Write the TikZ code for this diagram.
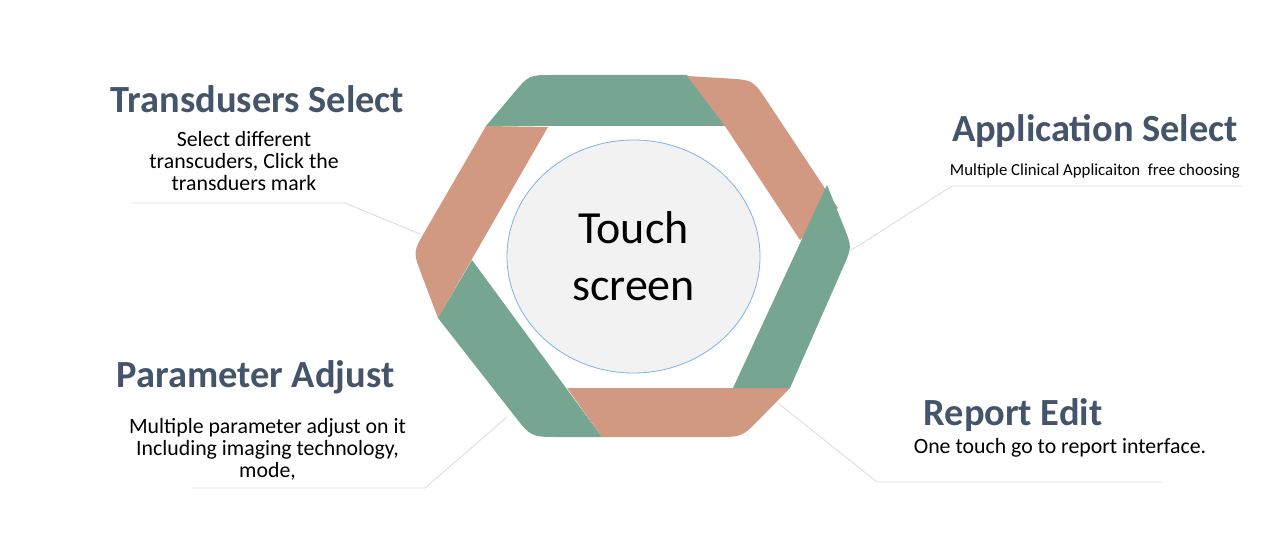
\documentclass[tikz,border=0pt]{standalone}
\usepackage{fontspec}
\setmainfont{Carlito}
\usetikzlibrary{calc,shapes.geometric}
\definecolor{segG}{HTML}{76A592}
\definecolor{segS}{HTML}{D19882}
\definecolor{ttl}{HTML}{44546A}
\definecolor{lead}{HTML}{DDDDDD}
\definecolor{ringblue}{HTML}{7DB4E8}
\definecolor{ringfill}{HTML}{F2F2F2}
\begin{document}
\begin{tikzpicture}[x=1pt,y=-1pt,
  title/.style={anchor=base,text=ttl,font=\fontsize{38.4}{44}\selectfont\bfseries,inner sep=0},
  body/.style={anchor=base,align=center,text=black,font=\fontsize{21.8}{22}\selectfont,inner sep=0},
  small/.style={anchor=base,text=black,font=\fontsize{16.8}{18}\selectfont,inner sep=0},
  leader/.style={draw=lead,line width=0.9pt},
  center/.style={ellipse,draw=ringblue,line width=0.8pt,fill=ringfill,minimum width=253,minimum height=233,inner sep=0,align=center,font=\fontsize{46}{57}\selectfont}
]
\useasboundingbox (0,0) rectangle (1268,540);
\fill[white] (0,0) rectangle (1268,540);

% ring segments
% green top
\fill[segG] (486,126) -- (730,126) -- (687,75) -- ($(529,75)!24pt!(687,75)$) .. controls (529,75) .. ($(529,75)!24pt!(486,126)$) -- cycle;
% salmon left
\fill[segS] (548,127) -- (438,318) -- ($(413,252)!24pt!(438,318)$) .. controls (413,252) .. ($(413,252)!24pt!(486,126)$) -- (486,126) -- cycle;
% green bottom-left
\fill[segG] (472,260) -- (602,437) -- ($(531,437)!28pt!(602,437)$) .. controls (531,437) .. ($(531,437)!28pt!(438,318)$) -- (438,318) -- cycle;
% salmon bottom
\fill[segS] (567,388) -- (790,388) -- ($(742,437)!26pt!(790,388)$) .. controls (742,437) .. ($(742,437)!26pt!(602,437)$) -- (602,437) -- cycle;
% salmon top-right
\fill[segS] (687,76) -- ($(753,80)!26pt!(687,76)$) .. controls (753,80) .. ($(753,80)!26pt!(838,208)$) -- (838,208) -- (800,240) -- (725,126) -- cycle;
% green right
\fill[segG] (827,185) -- ($(852,247)!22pt!(827,185)$) .. controls (852,247) .. ($(852,247)!22pt!(790,388)$) -- (790,388) -- (733,388) -- cycle;

% center
\node[center] (ts) at (633.5,256.5) {Touch\\screen};

% texts (multi-line nodes are anchored at the baseline of their last line)
\node[title] (t1) at (257.5,113) {Transdusers Select};
\node[body] (b1) at (244,191) {Select different\\transcuders, Click the\\transduers mark};

\node[title] (t2) at (1095,142) {Application Select};
\node[small] (b2) at (1095,176) {Multiple Clinical Applicaiton\ \ free choosing};

\node[title] (t3) at (255.5,387) {Parameter Adjust};
\node[body] (b3) at (267.5,477) {Multiple parameter adjust on it\\Including imaging technology,\\mode,};

\node[title] (t4) at (1013,425) {Report Edit};
\node[body] (b4) at (1060,453) {One touch go to report interface.};

% leader lines
\coordinate (l1a) at (131,203); \coordinate (l1b) at (345,203); \coordinate (l1c) at (420,234);
\draw[leader] (l1a) -- (l1b) -- (l1c);
\coordinate (l2a) at (1243,186); \coordinate (l2b) at (952,186); \coordinate (l2c) at (850,251);
\draw[leader] (l2a) -- (l2b) -- (l2c);
\coordinate (l3a) at (192,488); \coordinate (l3b) at (425,488); \coordinate (l3c) at (507,417);
\draw[leader] (l3a) -- (l3b) -- (l3c);
\coordinate (l4a) at (1163,482); \coordinate (l4b) at (877,482); \coordinate (l4c) at (778,403);
\draw[leader] (l4a) -- (l4b) -- (l4c);
\end{tikzpicture}
\end{document}
